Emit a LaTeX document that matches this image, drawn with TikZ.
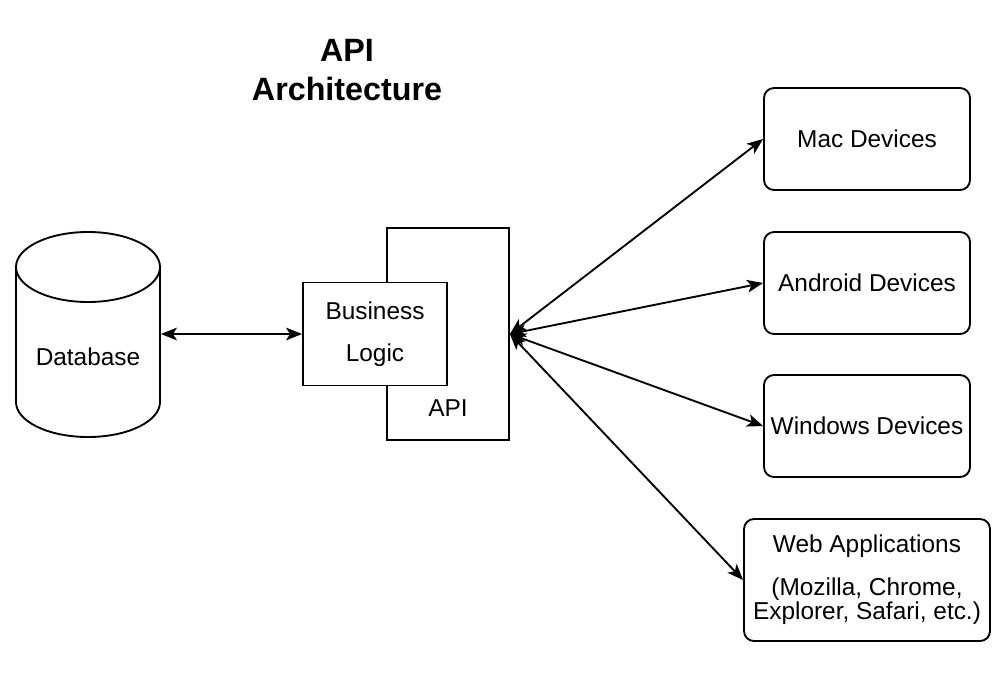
\documentclass[tikz,border=0pt]{standalone}
\usepackage{fontspec}
\setmainfont{Liberation Sans}
\usetikzlibrary{arrows.meta}
\begin{document}
\begin{tikzpicture}[x=0.75pt,y=-0.75pt,line width=1.4pt,
  every node/.style={font=\fontsize{18.3}{18}\selectfont},
  devbox/.style={draw,fill=white,rounded corners=7.5pt,inner sep=0pt,minimum width=154.5pt,minimum height=76.5pt,align=center},
  plainbox/.style={draw,fill=white,inner sep=0pt,align=center},
  link/.style={{Stealth[length=12pt,width=9.5pt,inset=3pt]}-{Stealth[length=12pt,width=9.5pt,inset=3pt]}}]
\useasboundingbox (0,0) rectangle (1007,690);
% title
\node[font=\bfseries\fontsize{24.2}{29.5}\selectfont,align=center] (title) at (347,70) {API\\Architecture};
% database cylinder
\draw[fill=white] (16,267) -- (16,402) arc[start angle=180,end angle=0,x radius=72,y radius=35] -- (160,267);
\draw[fill=white] (88,267) ellipse [x radius=72,y radius=35];
\node[inner sep=0pt,minimum width=108pt,minimum height=153.75pt] (db) at (88,334) {};
\node (dbtext) at (88,357) {Database};
% API and business logic
\node[plainbox,minimum width=91.5pt,minimum height=159pt] (api) at (448,334) {};
\node[plainbox,minimum width=108pt,minimum height=77.25pt] (bl) at (375,334) {Business\\[13.5pt]Logic};
\node (apitext) at (448,408) {API};
% devices
\node[devbox] (mac) at (867,139) {Mac Devices};
\node[devbox] (android) at (867,283) {Android Devices};
\node[devbox] (windows) at (867,426) {Windows Devices};
\node[devbox,minimum width=184.5pt,minimum height=91.5pt] (web) at (867,580) {Web Applications\\[14pt](Mozilla, Chrome,\\Explorer, Safari, etc.)};
% connectors
\draw[link] (db.east) -- (bl.west);
\draw[link] (api.east) -- (mac.west);
\draw[link] (api.east) -- (android.west);
\draw[link] (api.east) -- (windows.west);
\draw[link] (api.east) -- (web.west);
\end{tikzpicture}
\end{document}
